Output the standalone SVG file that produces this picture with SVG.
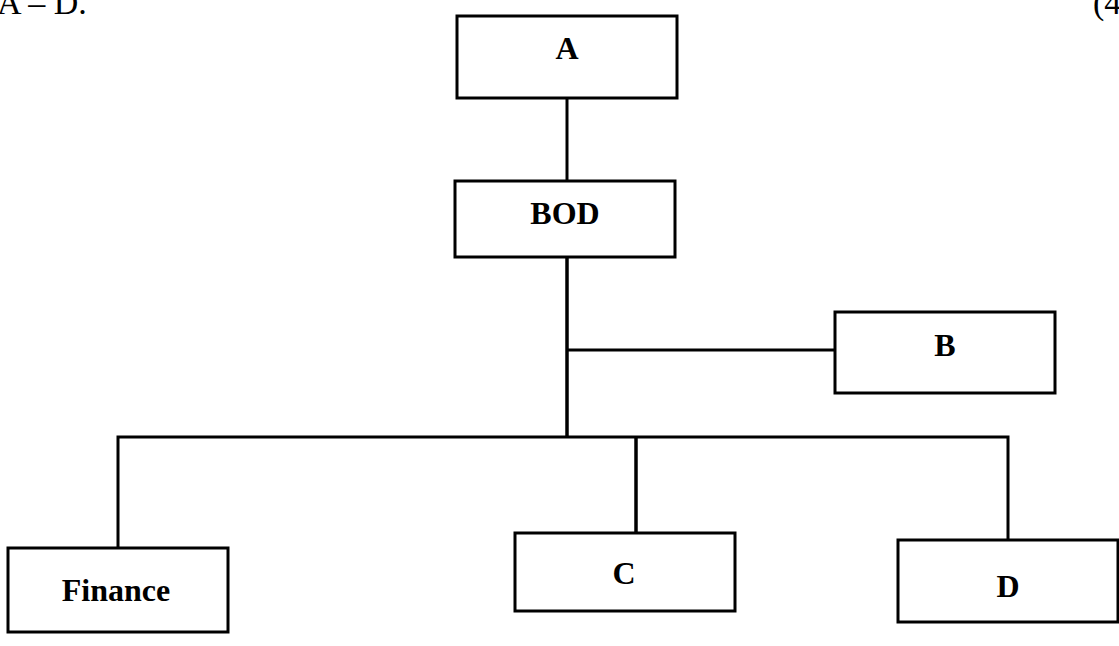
<svg xmlns="http://www.w3.org/2000/svg" width="1119" height="646" viewBox="0 0 1119 646">
<style>
.box{fill:#fff;stroke:#000;stroke-width:3}
.lbl{font-family:"Liberation Serif","Times New Roman",serif;font-weight:bold;font-size:32px;text-anchor:middle;fill:#000}
.hdr{font-family:"Liberation Serif","Times New Roman",serif;font-size:34px;fill:#000}
.con{stroke:#000;stroke-width:3;fill:none}
.main{stroke-width:3.5}
</style>
<rect width="1119" height="646" fill="#fff"/>
<text class="hdr" x="-3" y="14">A – D.</text>
<text class="hdr" x="1093" y="14">(4</text>
<g id="connectors">
<line class="con" x1="567" y1="98" x2="567" y2="181"/>
<line class="con main" x1="567" y1="257" x2="567" y2="437"/>
<line class="con" x1="567" y1="350" x2="835" y2="350"/>
<polyline class="con" points="118,548 118,437 1008,437 1008,540"/>
<line class="con main" x1="636" y1="437" x2="636" y2="533"/>
</g>
<g id="nodeA"><rect class="box" x="457" y="16" width="220" height="82"/><text class="lbl" x="567" y="59">A</text></g>
<g id="nodeBOD"><rect class="box" x="455" y="181" width="220" height="76"/><text class="lbl" x="565" y="224">BOD</text></g>
<g id="nodeB"><rect class="box" x="835" y="312" width="220" height="81"/><text class="lbl" x="945" y="356">B</text></g>
<g id="nodeFinance"><rect class="box" x="8" y="548" width="220" height="84"/><text class="lbl" x="116" y="601">Finance</text></g>
<g id="nodeC"><rect class="box" x="515" y="533" width="220" height="78"/><text class="lbl" x="624" y="584">C</text></g>
<g id="nodeD"><rect class="box" x="898" y="540" width="220" height="82"/><text class="lbl" x="1008" y="597">D</text></g>
</svg>
